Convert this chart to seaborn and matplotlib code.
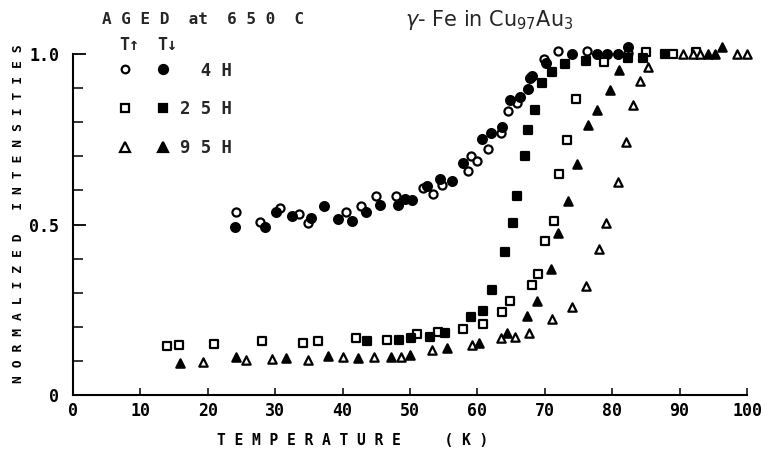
import numpy as np
import pandas as pd
import matplotlib
matplotlib.use("Agg")
import matplotlib.pyplot as plt
import seaborn as sns
from matplotlib.lines import Line2D
from matplotlib.ticker import MultipleLocator

# ---------------- data ----------------
t_4h_up = [24.2, 27.7, 30.7, 33.5, 34.9, 40.5, 42.7, 45.0, 47.9, 51.9, 53.4, 54.7,
           58.6, 59.0, 59.9, 61.6, 63.5, 64.5, 65.9, 69.9, 72.0, 76.3, 82.3]
i_4h_up = [0.537, 0.507, 0.548, 0.531, 0.504, 0.537, 0.554, 0.584, 0.584, 0.607, 0.589, 0.616,
           0.657, 0.701, 0.686, 0.721, 0.768, 0.833, 0.856, 0.985, 1.009, 1.009, 1.003]

t_4h_dn = [24.0, 28.5, 30.1, 32.5, 35.3, 37.2, 39.3, 41.4, 43.5, 45.5, 48.2, 49.3, 50.3,
           52.5, 54.5, 56.2, 57.9, 60.7, 62.0, 63.6, 64.8, 66.3, 67.5, 67.8, 68.1, 70.2,
           74.0, 77.7, 79.2, 80.9, 82.3]
i_4h_dn = [0.493, 0.493, 0.537, 0.525, 0.519, 0.554, 0.516, 0.510, 0.537, 0.557, 0.557, 0.575, 0.572,
           0.613, 0.633, 0.628, 0.680, 0.751, 0.768, 0.786, 0.865, 0.874, 0.897, 0.930, 0.935, 0.974,
           1.000, 1.000, 1.000, 1.000, 1.020]

t_25h_up = [13.9, 15.7, 20.9, 28.0, 34.1, 36.4, 42.0, 46.6, 51.0, 54.2, 57.9, 60.8,
            63.6, 64.8, 68.1, 69.0, 70.0, 71.4, 72.1, 73.3, 74.6, 78.8, 85.0, 89.0, 92.5]
i_25h_up = [0.144, 0.147, 0.150, 0.158, 0.152, 0.158, 0.167, 0.161, 0.179, 0.185, 0.194, 0.208,
            0.243, 0.276, 0.323, 0.355, 0.452, 0.510, 0.648, 0.748, 0.868, 0.977, 1.006, 1.000, 1.005]

t_25h_dn = [43.6, 48.4, 50.1, 53.0, 55.2, 59.1, 60.8, 62.2, 64.1, 65.3, 65.9, 67.1,
            67.5, 68.5, 69.6, 71.1, 73.0, 76.1, 82.3, 84.6, 87.8]
i_25h_dn = [0.158, 0.161, 0.167, 0.170, 0.182, 0.229, 0.246, 0.308, 0.419, 0.504, 0.584, 0.701,
            0.777, 0.836, 0.915, 0.947, 0.971, 0.980, 0.988, 0.988, 1.000]

t_95h_up = [19.3, 25.7, 29.5, 34.9, 40.1, 44.7, 48.7, 53.3, 59.2, 63.5, 65.6, 67.7, 71.1,
            74.0, 76.1, 78.0, 79.1, 80.9, 82.0, 83.1, 84.1, 85.3, 90.5, 92.0, 93.0, 98.5, 100.0]
i_95h_up = [0.097, 0.103, 0.106, 0.103, 0.111, 0.111, 0.111, 0.132, 0.147, 0.167, 0.170, 0.182, 0.223,
            0.258, 0.320, 0.428, 0.504, 0.625, 0.742, 0.850, 0.921, 0.962, 1.000, 1.000, 1.000, 1.000, 1.000]

t_95h_dn = [15.9, 24.2, 31.6, 37.8, 42.3, 47.2, 50.0, 55.5, 60.2, 64.4, 67.4, 68.8, 70.9,
            71.9, 73.4, 74.8, 76.4, 77.7, 79.7, 81.0, 94.2, 95.3, 96.3]
i_95h_dn = [0.094, 0.111, 0.108, 0.114, 0.108, 0.111, 0.117, 0.138, 0.152, 0.182, 0.232, 0.276, 0.369,
            0.475, 0.570, 0.677, 0.792, 0.836, 0.894, 0.953, 1.000, 1.000, 1.020]

x_ticks = [0, 10, 20, 30, 40, 50, 60, 70, 80, 90, 100]
y_ticks = [0, 0.5, 1.0]
y_tick_labels = ["0", "0.5", "1.0"]
aging_labels = ["  4 H", "2 5 H", "9 5 H"]

# ---------------- style ----------------
sns.set_theme(style="ticks")
plt.rcParams['font.family'] = ['DejaVu Sans Mono', 'DejaVu Sans']
plt.rcParams['mathtext.fontset'] = 'dejavusans'
BOLD = 'bold'

W, H = 765, 455
fig = plt.figure(figsize=(W / 100, H / 100), dpi=100)
fig.patch.set_facecolor('white')
x0, x1, y0, y1 = 73, 747, 395, 54
ax = fig.add_axes([x0 / W, 1 - y0 / H, (x1 - x0) / W, (y0 - y1) / H])
ax.set_facecolor('white')

series = [
    (t_4h_up, i_4h_up, 'o', False, 34),
    (t_4h_dn, i_4h_dn, 'o', True, 40),
    (t_25h_up, i_25h_up, 's', False, 28),
    (t_25h_dn, i_25h_dn, 's', True, 30),
    (t_95h_up, i_95h_up, '^', False, 36),
    (t_95h_dn, i_95h_dn, '^', True, 36),
]
for t, v, m, filled, s in series:
    df = pd.DataFrame({"T": t, "I": v})
    sns.scatterplot(data=df, x="T", y="I", ax=ax, marker=m, s=s,
                    color='black' if filled else 'white', edgecolor='black',
                    linewidth=1.6, legend=False, clip_on=False, zorder=3)

ax.set_xlim(0, 100)
ax.set_ylim(0, 1.0)
ax.set_xticks(x_ticks)
ax.set_xticklabels([str(v) for v in x_ticks], fontweight=BOLD)
ax.set_yticks(y_ticks)
ax.set_yticklabels(y_tick_labels, fontweight=BOLD)
ax.yaxis.set_minor_locator(MultipleLocator(0.1))
for side in ['top', 'right']:
    ax.spines[side].set_visible(False)
for side in ['left', 'bottom']:
    ax.spines[side].set_linewidth(1.5)
    ax.spines[side].set_color('black')
ax.tick_params(axis='x', which='major', direction='in', length=5, width=1.1,
               pad=5, labelsize=12, colors='black')
ax.tick_params(axis='y', which='major', direction='in', length=9, width=1.3,
               pad=10, labelsize=12, colors='black')
ax.tick_params(axis='y', which='minor', direction='in', length=7, width=1.1, colors='black')
ax.grid(False)

ax.set_xlabel("T E M P E R A T U R E     ( K )", fontsize=10.5, color='black', fontweight=BOLD)
ax.xaxis.set_label_coords((353 - x0) / (x1 - x0), (y0 - 433) / (y0 - y1))
ax.set_ylabel("N O R M A L I Z E D   I N T E N S I T I E S", fontsize=9.4, color='black',
              fontweight=BOLD)
ax.yaxis.set_label_coords((25 - x0) / (x1 - x0), (y0 - 214) / (y0 - y1))

# legend: open (T up) column and filled (T down) column
def h(m, filled, ms):
    return Line2D([], [], ls='', marker=m, ms=ms, mew=1.6, mec='black',
                  mfc='black' if filled else 'white')
handles = [h('o', False, 5.5), h('s', False, 5.5), h('^', False, 6.5),
           h('o', True, 6.5), h('s', True, 6), h('^', True, 7)]
labels = ['', '', ''] + aging_labels
fs = 12.4
px = fs * 100 / 72.0
leg = ax.legend(handles, labels, ncol=2, frameon=False,
                prop={'size': fs, 'weight': BOLD},
                handlelength=1.0, handletextpad=8.4 / px, columnspacing=12.4 / px,
                labelspacing=1.2, borderpad=0, borderaxespad=0,
                loc='upper left', bbox_to_anchor=(116.4 / W, 1 - 61.5 / H),
                bbox_transform=fig.transFigure)

fig.text(102 / W, 1 - 20 / H, "A G E D  at  6 5 0  C", fontsize=11.5, va='center', ha='left',
         fontweight=BOLD)
fig.text(129 / W, 1 - 45 / H, "T↑", fontsize=12, va='center', ha='center', fontweight=BOLD)
fig.text(167 / W, 1 - 45 / H, "T↓", fontsize=12, va='center', ha='center', fontweight=BOLD)
fig.text(405 / W, 1 - 20 / H, r"$\gamma$- Fe in Cu$_{97}$Au$_{3}$", fontsize=15,
         va='center', ha='left', family='DejaVu Sans', fontweight='normal')

fig.savefig("out.png", dpi=100)
